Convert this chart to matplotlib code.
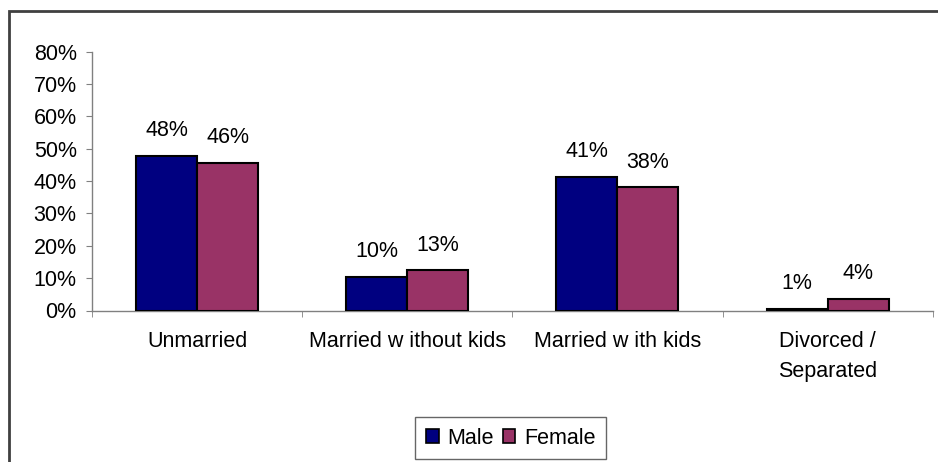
import matplotlib
matplotlib.use("Agg")
import matplotlib.pyplot as plt
import numpy as np
from matplotlib.patches import Rectangle, Patch
from matplotlib.ticker import FixedLocator, PercentFormatter

categories = ["Unmarried", "Married w ithout kids", "Married w ith kids", "Divorced /\nSeparated"]
series_names = ["Male", "Female"]
male = [47.9, 10.4, 41.3, 0.6]
female = [45.6, 12.5, 38.1, 3.6]
y_ticks = [0, 10, 20, 30, 40, 50, 60, 70, 80]

MALE_COLOR = "#000080"
FEMALE_COLOR = "#993366"
AXIS_GRAY = "#808080"

plt.rcParams["font.family"] = ["Liberation Sans", "DejaVu Sans"]
FS = 15.5

W, H = 938, 462
fig = plt.figure(figsize=(W / 100, H / 100), dpi=100)
ax = fig.add_axes([92 / W, 1 - 310.5 / H, (932.7 - 92) / W, (310.5 - 51.7) / H])

x = np.arange(len(categories))
bw = 0.29
for vals, color, off in [(male, MALE_COLOR, -bw / 2), (female, FEMALE_COLOR, bw / 2)]:
    bars = ax.bar(x + off, vals, width=bw, color=color, edgecolor="black", linewidth=1.5, zorder=3)
    for b, v in zip(bars, vals):
        ax.annotate(f"{int(v + 0.5)}%", (b.get_x() + b.get_width() / 2, b.get_height()),
                    xytext=(0, 18), textcoords="offset points",
                    ha="center", va="center", fontsize=FS)

ax.set_xlim(-0.5, len(categories) - 0.5)
ax.set_ylim(0, 80)
ax.yaxis.set_major_locator(FixedLocator(y_ticks))
ax.yaxis.set_major_formatter(PercentFormatter(decimals=0))

ax.set_xticks(x)
ax.set_xticklabels(categories, fontsize=FS, linespacing=1.55)
ax.xaxis.set_minor_locator(FixedLocator(np.arange(len(categories) + 1) - 0.5))
ax.tick_params(axis="x", which="major", length=0, pad=15)
ax.tick_params(axis="x", which="minor", length=4, color=AXIS_GRAY, direction="out")
ax.tick_params(axis="y", length=4, color=AXIS_GRAY, direction="out", pad=7, labelsize=FS)

for s in ["top", "right"]:
    ax.spines[s].set_visible(False)
for s in ["left", "bottom"]:
    ax.spines[s].set_color(AXIS_GRAY)
    ax.spines[s].set_linewidth(1.0)

handles = [Patch(facecolor=MALE_COLOR, edgecolor="black", linewidth=1.2),
           Patch(facecolor=FEMALE_COLOR, edgecolor="black", linewidth=1.2)]
leg = fig.legend(handles, series_names, loc="center", bbox_to_anchor=(510.7 / W, 1 - 438 / H),
                 ncol=2, fontsize=FS, frameon=True, fancybox=False, shadow=False,
                 handlelength=0.6, handleheight=0.6, handletextpad=0.4,
                 columnspacing=0.4, borderpad=0.5, borderaxespad=0)
leg.get_frame().set_edgecolor("#404040")
leg.get_frame().set_linewidth(1.0)

fig.patches.append(Rectangle((8.5 / W, -0.05), 1.1, 1 - 11 / H + 0.05,
                             transform=fig.transFigure, fill=False,
                             edgecolor="#404040", linewidth=2))

fig.savefig("out.png", dpi=100)
